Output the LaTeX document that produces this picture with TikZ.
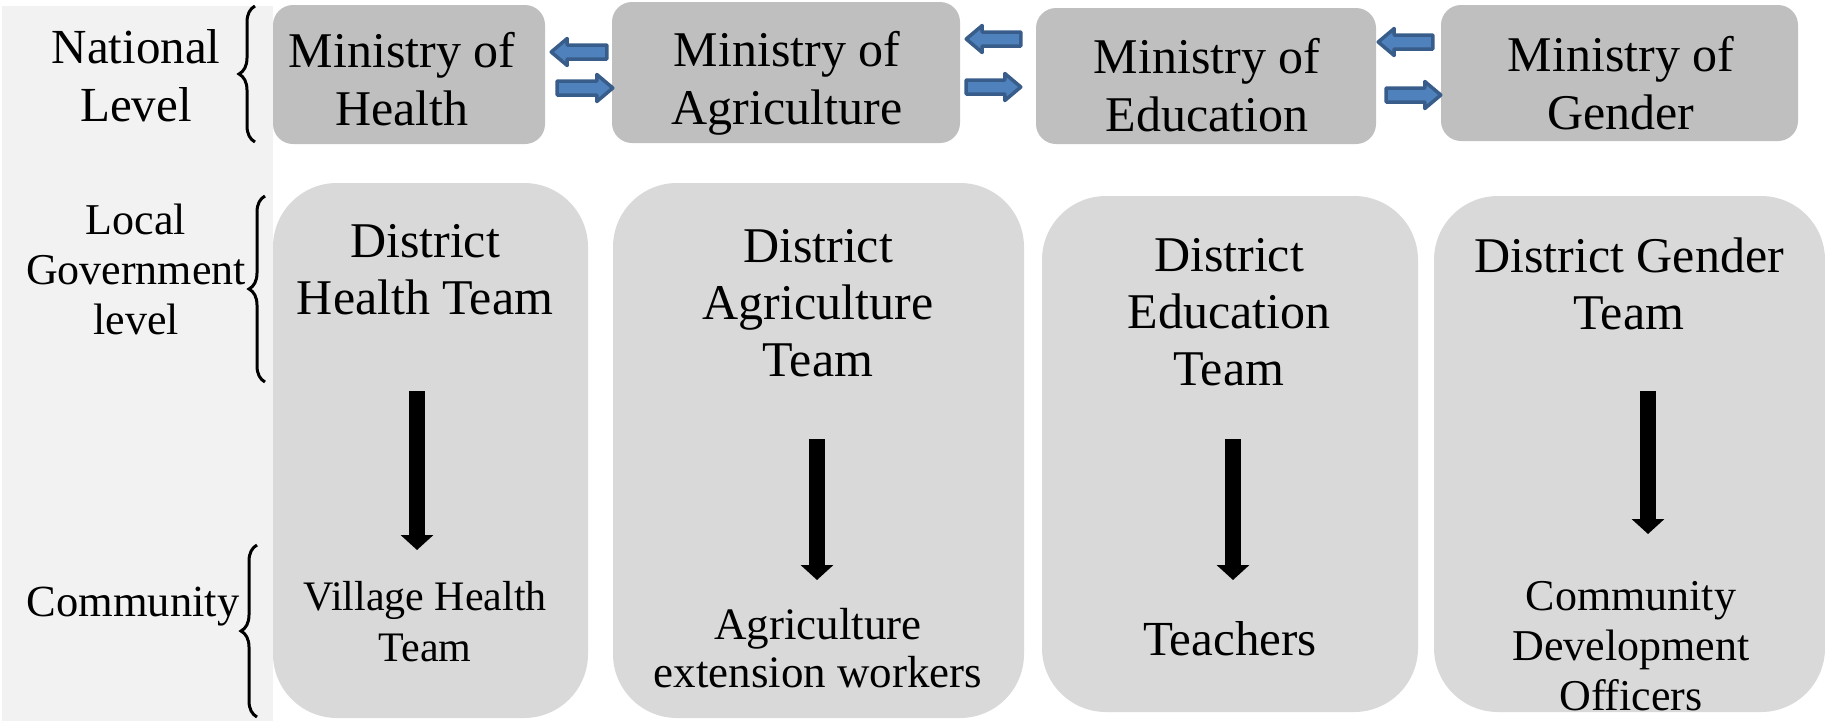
\documentclass[tikz,border=0pt]{standalone}
\usepackage{fontspec}
\setmainfont{Liberation Serif}
\usetikzlibrary{arrows.meta,decorations.pathreplacing,calc}
\definecolor{panelgray}{HTML}{F2F2F2}
\definecolor{minfill}{HTML}{BFBFBF}
\definecolor{distfill}{HTML}{D9D9D9}
\definecolor{bafill}{HTML}{4F81BD}
\definecolor{badraw}{HTML}{385D8A}
\newcommand\blockarrow[3]{% #1 tail, #2 tip, #3 direction (1 right, -1 left)
  \draw[blockarr] let \p1=#1, \p2=#2 in
    ({\x1},{\y1+7pt}) -- ({\x2-#3*16pt},{\y1+7pt}) -- ({\x2-#3*16pt},{\y1+13.5pt})
    -- ({\x2},{\y1}) -- ({\x2-#3*16pt},{\y1-13.5pt}) -- ({\x2-#3*16pt},{\y1-7pt})
    -- ({\x1},{\y1-7pt}) -- cycle;}
\begin{document}
\begin{tikzpicture}[x=1pt,y=-1pt,
  minbox/.style={fill=minfill, rounded corners=20pt, inner sep=0pt},
  distbox/.style={fill=distfill, rounded corners=64pt, inner sep=0pt},
  txt/.style={align=center, inner sep=0pt},
  bigtxt/.style={txt, font=\fontsize{50}{58}\selectfont},
  disttxt/.style={txt, font=\fontsize{50}{57}\selectfont},
  blockarr/.style={fill=bafill, draw=badraw, line width=3.5pt, line join=round},
  blk/.style={line width=16pt, -{Triangle[width=32pt,length=15pt]}},
  bracedec/.style={decorate, decoration={brace, amplitude=16pt}, line width=3pt}
]
\useasboundingbox (0,0) rectangle (1825,721);
% left panel
\fill[panelgray] (2,6) rectangle (273,721);

% ministry boxes
\node[minbox, minimum width=272pt, minimum height=139pt] (mh) at (409,74.5) {};
\node[minbox, minimum width=348pt, minimum height=141pt] (ma) at (786,72.5) {};
\node[minbox, minimum width=340pt, minimum height=136pt] (me) at (1206,76) {};
\node[minbox, minimum width=357pt, minimum height=136pt] (mg) at (1619.5,73) {};

\node[bigtxt] (mht) at (402,79) {Ministry of\\Health};
\node[bigtxt] (mat) at (787,83) {Ministry of\\Agriculture};
\node[bigtxt] (met) at (1207,85) {Ministry of\\Education};
\node[bigtxt] (mgt) at (1621,83) {Ministry of\\Gender};

% district boxes
\node[distbox, minimum width=315pt, minimum height=535pt] (dh) at (430.5,450.5) {};
\node[distbox, minimum width=411pt, minimum height=535pt] (da) at (818.5,450.5) {};
\node[distbox, minimum width=376pt, minimum height=516pt] (de) at (1230,454) {};
\node[distbox, minimum width=391pt, minimum height=516pt] (dg) at (1629.5,454) {};

\node[disttxt] (dht) at (425,269.5) {District\\Health Team};
\node[disttxt] (dat) at (818,303) {District\\Agriculture\\Team};
\node[disttxt] (det) at (1229,312) {District\\Education\\Team};
\node[disttxt] (dgt) at (1629,283.5) {District Gender\\Team};

% community texts
\node[txt, font=\fontsize{42}{51}\selectfont] (ch) at (425,622) {Village Health\\Team};
\node[txt, font=\fontsize{45}{48}\selectfont] (ca) at (818,648.5) {Agriculture\\extension workers};
\node[txt, font=\fontsize{49}{57}\selectfont] (ce) at (1230,639) {Teachers};
\node[txt, font=\fontsize{44}{50}\selectfont] (cg) at (1631,646) {Community\\Development\\Officers};

% left labels
\node[txt, font=\fontsize{49}{58}\selectfont] (lnat) at (136,76) {National\\Level};
\node[txt, font=\fontsize{44}{50}\selectfont] (lloc) at (136,269) {Local\\Government\\level};
\node[txt, font=\fontsize{44.5}{50}\selectfont] (lcom) at (133,607) {Community};

% braces
\draw[bracedec] (255,142) -- (255,6);
\draw[bracedec] (265,382) -- (265,196);
\draw[bracedec] (257,717) -- (257,545);

% blue block arrows between ministries
\blockarrow{($(ma.west |- 0,52)+(-5,0)$)}{($(mh.east |- 0,52)+(6,0)$)}{-1}
\blockarrow{($(mh.east |- 0,88)+(12,0)$)}{($(ma.west |- 0,88)+(1,0)$)}{1}
\blockarrow{($(me.west |- 0,39)+(-15,0)$)}{($(ma.east |- 0,39)+(6,0)$)}{-1}
\blockarrow{($(ma.east |- 0,87)+(6,0)$)}{($(me.west |- 0,87)+(-15,0)$)}{1}
\blockarrow{($(mg.west |- 0,42)+(-8,0)$)}{($(me.east |- 0,42)+(2,0)$)}{-1}
\blockarrow{($(me.east |- 0,95)+(10,0)$)}{($(mg.west |- 0,95)+(0,0)$)}{1}

% black arrows district -> community
\coordinate (h1) at (417,391);  \coordinate (h2) at (417,550);
\coordinate (a1) at (817,439);  \coordinate (a2) at (817,580);
\coordinate (e1) at (1233,439); \coordinate (e2) at (1233,580);
\coordinate (g1) at (1648,391); \coordinate (g2) at (1648,534);
\draw[blk] (h1) -- (h2);
\draw[blk] (a1) -- (a2);
\draw[blk] (e1) -- (e2);
\draw[blk] (g1) -- (g2);
\end{tikzpicture}
\end{document}
